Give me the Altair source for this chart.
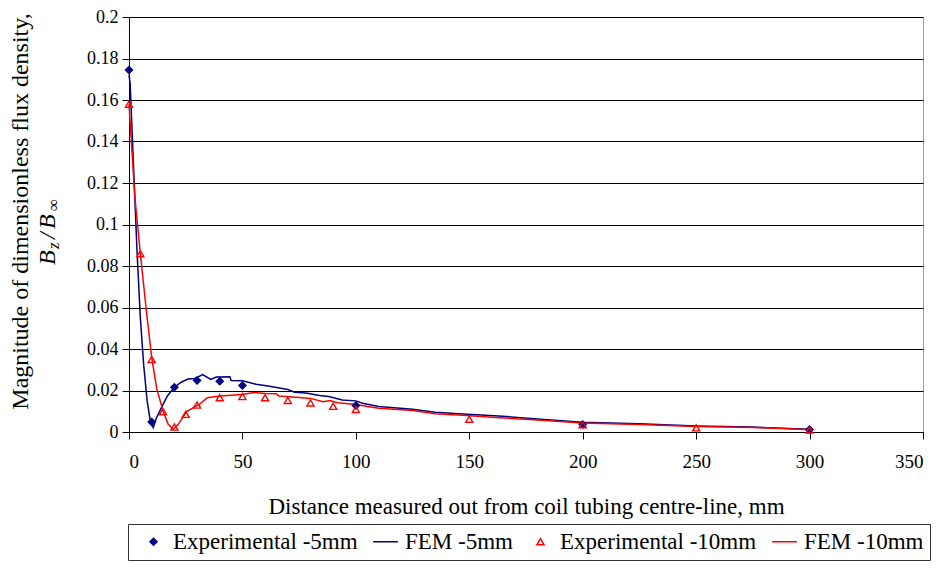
import altair as alt
import pandas as pd

# ---------------- data ----------------
series_names = ["Experimental -5mm", "FEM -5mm", "Experimental -10mm", "FEM -10mm"]

exp5_x = [0, 10, 20, 30, 40, 50, 100, 200, 300]
exp5_y = [0.1745, 0.0048, 0.0216, 0.0248, 0.0245, 0.0224, 0.0128, 0.0036, 0.0012]

exp10_x = [0, 5, 10, 15, 20, 25, 30, 40, 50, 60, 70, 80, 90, 100, 150, 200, 250, 300]
exp10_y = [0.158, 0.0859, 0.035, 0.0098, 0.0024, 0.0085, 0.013, 0.0165, 0.0171, 0.0165,
           0.0152, 0.0140, 0.0124, 0.0109, 0.0062, 0.0035, 0.0020, 0.0010]

fem5_x = [0, 0.5, 2, 3.5, 5, 6.5, 8, 9.5, 10.7, 12, 15, 17, 20, 23, 26, 29, 32.5, 36,
          38.5, 44.5, 45, 50, 56, 62, 70, 73, 78, 84, 88, 94, 100, 103, 110, 125, 135,
          149, 163, 180, 200, 225, 250, 275, 300]
fem5_y = [0.172, 0.168, 0.128, 0.088, 0.055, 0.032, 0.015, 0.0045, 0.0021, 0.0065, 0.0133,
          0.0175, 0.0216, 0.0240, 0.0255, 0.0258, 0.0277, 0.0253, 0.0265, 0.0266, 0.0248,
          0.0247, 0.0230, 0.0220, 0.0205, 0.0192, 0.0188, 0.0176, 0.0171, 0.0154, 0.0150,
          0.0139, 0.0123, 0.0110, 0.0095, 0.0086, 0.0077, 0.0063, 0.0047, 0.0040, 0.0029,
          0.0024, 0.0013]

fem10_x = [0, 2.6, 5, 7.8, 10, 12.2, 15, 17.3, 19.5, 21.7, 25.4, 31.3, 34.5, 40, 50, 55,
           60, 65, 66, 75, 80, 85.6, 88.5, 92, 100, 110, 125, 135, 149, 163, 180, 200,
           225, 250, 275, 300]
fem10_y = [0.158, 0.113, 0.086, 0.057, 0.036, 0.021, 0.0101, 0.0037, 0.0013, 0.0037,
           0.0098, 0.0136, 0.0165, 0.0173, 0.0181, 0.0190, 0.0185, 0.0184, 0.0173, 0.0166,
           0.0162, 0.0146, 0.0152, 0.0141, 0.0133, 0.0114, 0.0104, 0.0088, 0.0080, 0.0069,
           0.0058, 0.0043, 0.0036, 0.0026, 0.0022, 0.0011]

x_ticks = [0, 50, 100, 150, 200, 250, 300, 350]
y_ticks = [0, 0.02, 0.04, 0.06, 0.08, 0.1, 0.12, 0.14, 0.16, 0.18, 0.2]

# ---------------- tables ----------------
pts = pd.concat([
    pd.DataFrame({"x": exp5_x, "y": exp5_y, "series": series_names[0]}),
    pd.DataFrame({"x": exp10_x, "y": exp10_y, "series": series_names[2]}),
])
lines = pd.concat([
    pd.DataFrame({"x": fem5_x, "y": fem5_y, "series": series_names[1]}),
    pd.DataFrame({"x": fem10_x, "y": fem10_y, "series": series_names[3]}),
])

NAVY = "#000080"
RED = "#FF0000"
LINE_SYM = "M-3.5,0H3.5"
FONT = "Liberation Serif"

x_enc = alt.X(
    "x:Q",
    scale=alt.Scale(domain=[0, 350], nice=False),
    axis=alt.Axis(
        values=x_ticks, grid=False,
        title="Distance measured out from coil tubing centre-line, mm",
        labelPadding=13, titlePadding=24,
        labelFont=FONT, titleFont=FONT, labelFontSize=19, titleFontSize=23,
    ),
)
y_enc = alt.Y(
    "y:Q",
    scale=alt.Scale(domain=[0, 0.2], nice=False),
    axis=alt.Axis(
        values=y_ticks, format=".2~f", grid=True,
        title="Magnitude of dimensionless flux density,",
        titleX=-102, titleY=194, titleAngle=270, titleAlign="center",
        titleBaseline="alphabetic", labelPadding=4,
        labelFont=FONT, titleFont=FONT, labelFontSize=18, titleFontSize=24,
    ),
)

leg = alt.Legend(title=None, labelFont=FONT, labelFontSize=23)

stroke_enc = alt.Stroke(
    "series:N",
    scale=alt.Scale(domain=series_names, range=[NAVY, NAVY, RED, RED]),
    legend=leg,
)
fill_enc = alt.Fill(
    "series:N",
    scale=alt.Scale(domain=series_names,
                    range=[NAVY, "transparent", "transparent", "transparent"]),
    legend=leg,
)
shape_enc = alt.Shape(
    "series:N",
    scale=alt.Scale(domain=series_names,
                    range=["diamond", LINE_SYM, "triangle-up", LINE_SYM]),
    legend=leg,
)

line_layer = alt.Chart(lines).mark_line(strokeWidth=1.5).encode(
    x=x_enc, y=y_enc, stroke=stroke_enc, order="x:Q"
)
point_layer = alt.Chart(pts).mark_point(size=50, strokeWidth=1.4, opacity=1).encode(
    x=x_enc, y=y_enc, stroke=stroke_enc, fill=fill_enc, shape=shape_enc
)

# second line of the y title: B_z / B_inf (italic with subscripts)
one = pd.DataFrame({"k": [0]})


def piece(txt, x, y, size, style="italic"):
    return alt.Chart(one).mark_text(
        text=txt, angle=270, align="left", baseline="alphabetic",
        font=FONT, fontSize=size, fontStyle=style, color="black",
    ).encode(x=alt.value(x), y=alt.value(y))


title2 = (
    piece("B", -74, 248, 24)
    + piece("z", -70, 232, 17)
    + piece("/", -74, 222, 24)
    + piece("B", -74, 212, 24)
    + piece("\u221e", -70, 194, 17, "normal")
)

chart = alt.layer(line_layer, point_layer, title2).properties(
    width=794, height=415,
    padding={"left": 121, "top": 9, "right": 8, "bottom": 131},
    autosize=alt.AutoSizeParams(type="none"),
    background="white",
).configure_view(
    stroke="#a0a0a0", strokeWidth=1
).configure_axis(
    titleFontWeight="normal", labelColor="black", titleColor="black",
    domainColor="black", tickColor="black", tickSize=7, domainWidth=1,
    gridColor="black", gridWidth=1, gridOpacity=1,
).configure_legend(
    orient="none", legendX=-1, legendY=507, direction="horizontal", columns=4,
    labelColor="black", labelLimit=400,
    symbolSize=50, symbolStrokeWidth=1.5, labelOffset=8, columnPadding=8,
    padding=6, strokeColor="#333333", strokeWidth=1, fillColor="white",
    symbolOffset=8,
)

chart.save("out.html", embed_options={"renderer": "svg", "actions": False})
